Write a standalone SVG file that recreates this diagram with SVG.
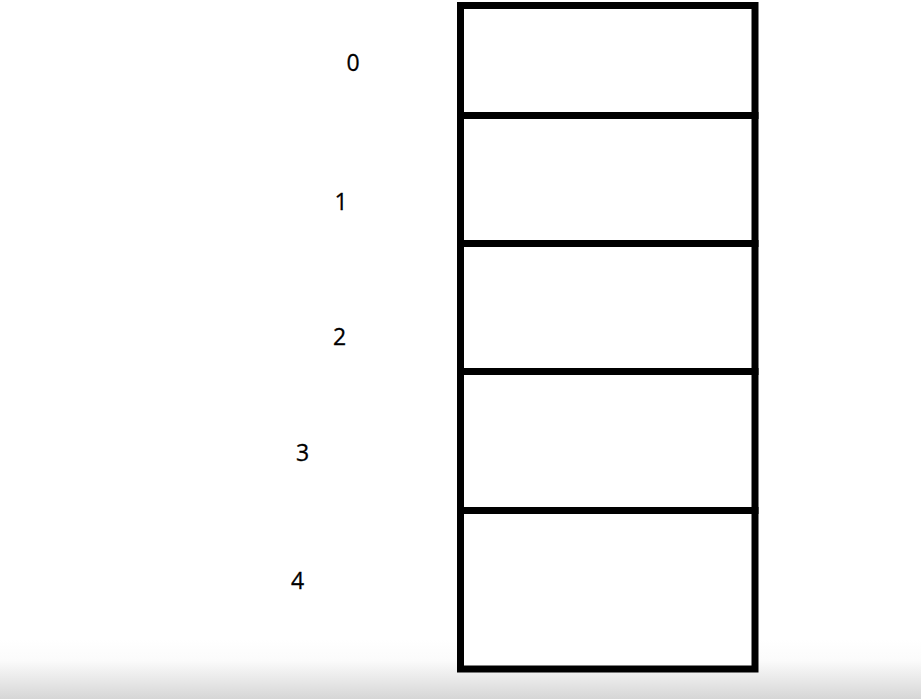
<svg xmlns="http://www.w3.org/2000/svg" width="921" height="699" viewBox="0 0 921 699">
<defs>
<linearGradient id="fade" x1="0" y1="0" x2="0" y2="1">
<stop offset="0" stop-color="#ffffff"/>
<stop offset="0.35" stop-color="#fbfbfb"/>
<stop offset="1" stop-color="#d6d6d6"/>
</linearGradient>
</defs>
<style>
.cell{fill:#ffffff;stroke:#000000;stroke-width:7}
.lbl{font-family:"Open Sans","Noto Sans","DejaVu Sans",sans-serif;font-size:23px;fill:#000000;stroke:#000000;stroke-width:0.3;text-anchor:middle}
</style>
<rect x="0" y="0" width="921" height="699" fill="#ffffff"/>
<rect x="0" y="640" width="921" height="59" fill="url(#fade)"/>
<g id="cell0"><rect class="cell" x="460.5" y="5.5" width="294.5" height="110"/></g>
<g id="cell1"><rect class="cell" x="460.5" y="115.5" width="294.5" height="128"/></g>
<g id="cell2"><rect class="cell" x="460.5" y="243.5" width="294.5" height="128"/></g>
<g id="cell3"><rect class="cell" x="460.5" y="371.5" width="294.5" height="139"/></g>
<g id="cell4"><rect class="cell" x="460.5" y="510.5" width="294.5" height="158.5"/></g>
<g id="labels">
<text class="lbl" x="353" y="71">0</text>
<text class="lbl" x="341" y="210">1</text>
<text class="lbl" x="339.5" y="345">2</text>
<text class="lbl" x="302.5" y="461">3</text>
<text class="lbl" x="297.5" y="589">4</text>
</g>
<g id="connectors"></g>
</svg>
